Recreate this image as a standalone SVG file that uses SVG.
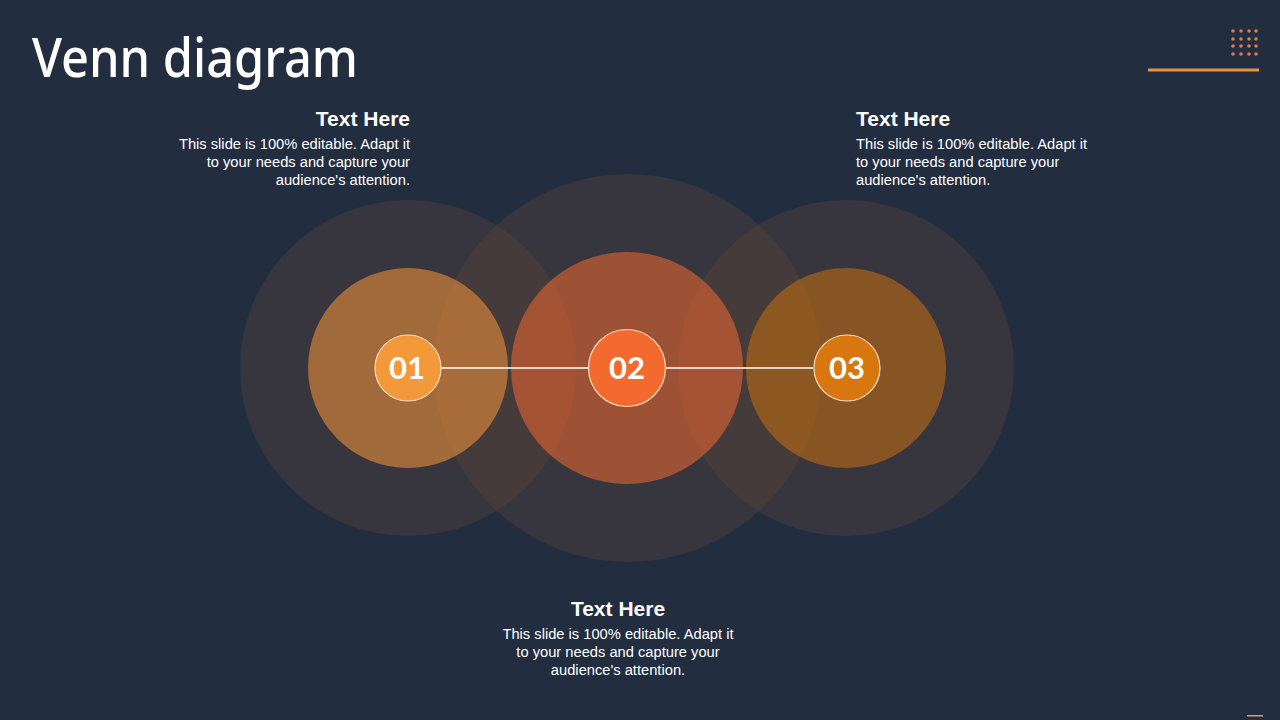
<svg xmlns="http://www.w3.org/2000/svg" width="1280" height="720" viewBox="0 0 1280 720">
<style>
.big{fill:#6b4838;fill-opacity:0.3}
.h{font-family:"Liberation Sans",Arial,sans-serif;font-weight:bold;font-size:21px;fill:#ffffff}
.b{font-family:"Liberation Sans",Arial,sans-serif;font-size:14.7px;fill:#ffffff}
.num{font-family:Lato,"Open Sans",sans-serif;font-weight:bold;font-size:31px;fill:#ffffff;text-anchor:middle}
.dot{fill:#e07a4a}
.badge{stroke:#f8dcc0;stroke-width:1.2}
</style>
<rect width="1280" height="720" fill="#222d3f"/>
<text x="32" y="77" font-family="'Noto Sans','DejaVu Sans',sans-serif" font-size="55" font-weight="500" fill="#ffffff" textLength="326" lengthAdjust="spacingAndGlyphs">Venn diagram</text>
<g id="decor">
<rect x="1148" y="68.5" width="111" height="3" fill="#e8913a"/>
<g class="dot">
<circle cx="1233" cy="31" r="1.8"/><circle cx="1241" cy="31" r="1.8"/><circle cx="1249" cy="31" r="1.8"/><circle cx="1256" cy="31" r="1.8"/>
<circle cx="1233" cy="39" r="1.8"/><circle cx="1241" cy="39" r="1.8"/><circle cx="1249" cy="39" r="1.8"/><circle cx="1256" cy="39" r="1.8"/>
<circle cx="1233" cy="46" r="1.8"/><circle cx="1241" cy="46" r="1.8"/><circle cx="1249" cy="46" r="1.8"/><circle cx="1256" cy="46" r="1.8"/>
<circle cx="1233" cy="54" r="1.8"/><circle cx="1241" cy="54" r="1.8"/><circle cx="1249" cy="54" r="1.8"/><circle cx="1256" cy="54" r="1.8"/>
</g>
<rect x="1247" y="715" width="16" height="1.5" fill="#e8a040"/>
</g>
<g id="outer-circles">
<circle class="big" cx="408" cy="368" r="168"/>
<circle class="big" cx="628" cy="368" r="194"/>
<circle class="big" cx="846" cy="368" r="168"/>
</g>
<g id="inner-circles">
<circle cx="408" cy="368" r="100" fill="#f7953a" fill-opacity="0.55"/>
<circle cx="627" cy="368" r="116" fill="#f26a30" fill-opacity="0.55"/>
<circle cx="846" cy="368" r="100" fill="#c8700e" fill-opacity="0.55"/>
</g>
<g id="connectors">
<line x1="441" y1="368" x2="813" y2="368" stroke="#ffffff" stroke-width="1.3"/>
</g>
<g id="node-01">
<circle class="badge" cx="408" cy="368" r="33" fill="#f4993a"/>
<text class="num" x="407" y="379">01</text>
</g>
<g id="node-02">
<circle class="badge" cx="627" cy="368" r="38.5" fill="#f26a2e"/>
<text class="num" x="627" y="379">02</text>
</g>
<g id="node-03">
<circle class="badge" cx="847" cy="368" r="33" fill="#d8760f"/>
<text class="num" x="847" y="379">03</text>
</g>
<g id="text-01" text-anchor="end">
<text class="h" x="410" y="126">Text Here</text>
<text class="b" x="410" y="149">This slide is 100% editable. Adapt it</text>
<text class="b" x="410" y="167">to your needs and capture your</text>
<text class="b" x="410" y="185">audience's attention.</text>
</g>
<g id="text-03">
<text class="h" x="856" y="126">Text Here</text>
<text class="b" x="856" y="149">This slide is 100% editable. Adapt it</text>
<text class="b" x="856" y="167">to your needs and capture your</text>
<text class="b" x="856" y="185">audience's attention.</text>
</g>
<g id="text-02" text-anchor="middle">
<text class="h" x="618" y="616">Text Here</text>
<text class="b" x="618" y="639">This slide is 100% editable. Adapt it</text>
<text class="b" x="618" y="657">to your needs and capture your</text>
<text class="b" x="618" y="675">audience's attention.</text>
</g>
</svg>
